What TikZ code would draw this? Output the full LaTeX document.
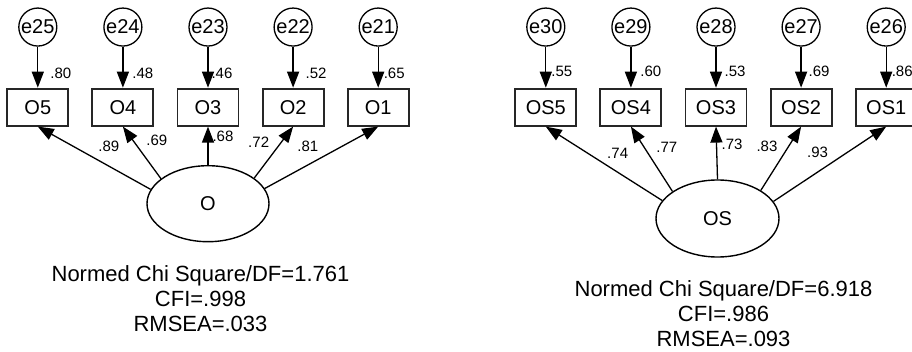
\documentclass[tikz,border=0pt]{standalone}
\usepackage{fontspec}
\setmainfont{Liberation Sans}
\usetikzlibrary{matrix, shapes.geometric, arrows.meta}

\begin{document}
\begin{tikzpicture}[x=1pt, y=-1pt,
  err/.style={draw, circle, line width=1.3pt, minimum size=38pt, inner sep=0pt},
  obs/.style={draw=black!85, line width=1.9pt, minimum width=61pt, minimum height=37pt, inner sep=0pt},
  lat/.style={draw, ellipse, line width=1.4pt, minimum width=122pt, minimum height=76pt, inner sep=0pt, font=\fontsize{20}{24}\selectfont},
  lab/.style={font=\fontsize{15}{18}\selectfont, inner sep=0pt},
  gof/.style={align=center, font=\fontsize{22}{25}\selectfont},
  arr/.style={-{Triangle[length=16pt,width=12pt]}, line width=1.3pt}]
  \useasboundingbox[fill=white] (0,0) rectangle (912,352);

  \matrix (mo) [matrix of nodes, row sep=41pt, column sep=22.2pt, inner sep=0pt,
    nodes={anchor=center, font=\fontsize{20}{24}\selectfont},
    row 1/.style={nodes={err}}, row 2/.style={nodes={obs}}] at (208,67)
  {
    e25 & e24 & e23 & e22 & e21 \\
    O5  & O4  & O3  & O2  & O1  \\
  };
  \matrix (mos) [matrix of nodes, row sep=41pt, column sep=22.2pt, inner sep=0pt,
    nodes={anchor=center, font=\fontsize{20}{24}\selectfont},
    row 1/.style={nodes={err}}, row 2/.style={nodes={obs}}] at (716,67)
  {
    e30 & e29 & e28 & e27 & e26 \\
    OS5 & OS4 & OS3 & OS2 & OS1 \\
  };

  \node[lat] (o) at (208,203.7) {O};
  \node[lat, minimum width=123pt, minimum height=77pt] (os) at (717.5,218.5) {OS};

  % error terms
  \path[arr]
    (mo-1-1) edge node[lab, pos=.65, xshift=23pt] {.80} (mo-2-1)
    (mo-1-2) edge node[lab, pos=.65, xshift=20pt] {.48} (mo-2-2)
    (mo-1-3) edge node[lab, pos=.65, xshift=14pt] {.46} (mo-2-3)
    (mo-1-4) edge node[lab, pos=.65, xshift=23pt] {.52} (mo-2-4)
    (mo-1-5) edge node[lab, pos=.65, xshift=16pt] {.65} (mo-2-5)

    (mos-1-1) edge node[lab, pos=.61, xshift=16pt] {.55} (mos-2-1)
    (mos-1-2) edge node[lab, pos=.61, xshift=20pt] {.60} (mos-2-2)
    (mos-1-3) edge node[lab, pos=.61, xshift=19pt] {.53} (mos-2-3)
    (mos-1-4) edge node[lab, pos=.61, xshift=18pt] {.69} (mos-2-4)
    (mos-1-5) edge node[lab, pos=.61, xshift=16pt] {.86} (mos-2-5);

  % loadings
  \path[arr]
    (o.166) edge node[lab, pos=.45, xshift=9pt, yshift=15pt] {.89} (mo-2-1.south)
    (o.152) edge node[lab, pos=.53, xshift=16pt, yshift=11pt] {.69} (mo-2-2.south)
    (o.90)  edge node[lab, pos=.75, xshift=15pt] {.68} (mo-2-3.south)
    (o.29)  edge node[lab, pos=.5, xshift=-15pt, yshift=10.5pt] {.72} (mo-2-4.south)
    (o.15)  edge node[lab, pos=.45, xshift=-8pt, yshift=14pt] {.81} (mo-2-5.south)

    (os.162) edge node[lab, pos=.46, xshift=9pt, yshift=13.5pt] {.74} (mos-2-1.south)
    (os.149) edge node[lab, pos=.52, xshift=16pt, yshift=10pt] {.77} (mos-2-2.south)
    (os.90)  edge node[lab, pos=.67, xshift=15.5pt] {.73} (mos-2-3.south)
    (os.33)  edge node[lab, pos=.55, xshift=-16pt, yshift=9pt] {.83} (mos-2-4.south)
    (os.17)  edge node[lab, pos=.48, xshift=-10pt, yshift=13.5pt] {.93} (mos-2-5.south);

  \node[gof] (fl) at (200.5,298.3) {Normed Chi Square/DF=1.761\\CFI=.998\\RMSEA=.033};
  \node[gof] (fr) at (723.5,314) {Normed Chi Square/DF=6.918\\CFI=.986\\RMSEA=.093};
\end{tikzpicture}
\end{document}
